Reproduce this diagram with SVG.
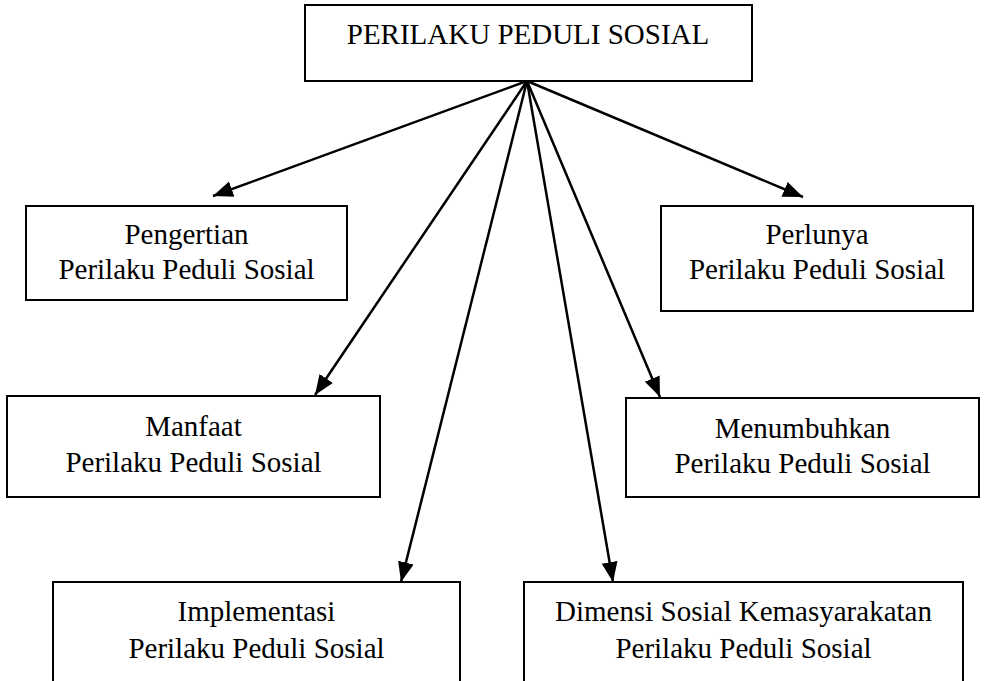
<svg xmlns="http://www.w3.org/2000/svg" width="986" height="681" viewBox="0 0 986 681">
  <style>
    .box { fill: #ffffff; stroke: #000000; stroke-width: 2; }
    .label { font-family: "Liberation Serif", "Times New Roman", serif; font-size: 29px; fill: #000000; text-anchor: middle; }
    .link { stroke: #000000; stroke-width: 2.5; fill: none; marker-end: url(#head); }
  </style>
  <defs>
    <marker id="head" markerUnits="userSpaceOnUse" markerWidth="21" markerHeight="18" refX="20" refY="9" orient="auto">
      <path d="M0,1 L20,9 L0,17 Z" fill="#000000"/>
    </marker>
  </defs>

  <rect width="986" height="681" fill="#ffffff"/>

  <g id="connectors">
    <line class="link" x1="527" y1="81" x2="213" y2="196"/>
    <line class="link" x1="527" y1="81" x2="315" y2="395"/>
    <line class="link" x1="527" y1="81" x2="401" y2="582"/>
    <line class="link" x1="527" y1="81" x2="613" y2="582"/>
    <line class="link" x1="527" y1="81" x2="660" y2="397"/>
    <line class="link" x1="527" y1="81" x2="803" y2="197"/>
  </g>

  <g id="root">
    <rect class="box" x="305" y="5" width="447" height="76"/>
    <text class="label" x="528" y="44">PERILAKU PEDULI SOSIAL</text>
  </g>

  <g id="pengertian">
    <rect class="box" x="26" y="206" width="321" height="94"/>
    <text class="label" x="186.5" y="244">Pengertian</text>
    <text class="label" x="186.5" y="279">Perilaku Peduli Sosial</text>
  </g>

  <g id="perlunya">
    <rect class="box" x="661" y="206" width="312" height="105"/>
    <text class="label" x="817" y="244">Perlunya</text>
    <text class="label" x="817" y="279">Perilaku Peduli Sosial</text>
  </g>

  <g id="manfaat">
    <rect class="box" x="7" y="396" width="373" height="101"/>
    <text class="label" x="193.5" y="436">Manfaat</text>
    <text class="label" x="193.5" y="472">Perilaku Peduli Sosial</text>
  </g>

  <g id="menumbuhkan">
    <rect class="box" x="626" y="398" width="353" height="99"/>
    <text class="label" x="802.5" y="438">Menumbuhkan</text>
    <text class="label" x="802.5" y="473">Perilaku Peduli Sosial</text>
  </g>

  <g id="implementasi">
    <rect class="box" x="53" y="582" width="407" height="120"/>
    <text class="label" x="256.5" y="621">Implementasi</text>
    <text class="label" x="256.5" y="658">Perilaku Peduli Sosial</text>
  </g>

  <g id="dimensi">
    <rect class="box" x="524" y="582" width="439" height="120"/>
    <text class="label" x="743.5" y="621">Dimensi Sosial Kemasyarakatan</text>
    <text class="label" x="743.5" y="658">Perilaku Peduli Sosial</text>
  </g>
</svg>
